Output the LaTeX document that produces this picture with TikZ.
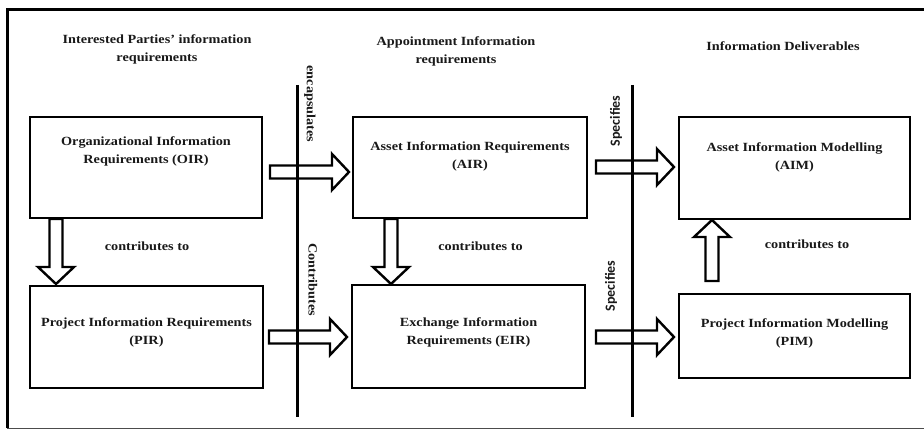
\documentclass[tikz,border=0pt]{standalone}
\usepackage{fontspec}
\setmainfont{Liberation Serif}[FakeStretch=1.14]
\newfontfamily\labsans{Carlito}
\usetikzlibrary{calc}
\begin{document}
\begin{tikzpicture}[x=1pt,y=-1pt,
  box/.style={draw=black, line width=2pt, rectangle, inner sep=0pt},
  txt/.style={font=\bfseries\fontsize{12.5}{18}\selectfont, align=center, inner sep=0pt, text=black!90},
  rlab/.style={font=\bfseries\fontsize{12.5}{15}\selectfont, inner sep=0pt, text=black!90},
  slab/.style={font=\labsans\bfseries\fontsize{14}{16}\selectfont, inner sep=0pt, text=black!90},
  sepline/.style={line width=3pt},
  barrow/.style={draw=black, line width=2.4pt, line join=miter, to path={
    let \p1=(\tikztostart), \p2=(\tikztotarget),
        \n1={veclen(\x2-\x1,\y2-\y1)}, \n2={(\x2-\x1)/\n1}, \n3={(\y2-\y1)/\n1} in
    ({\x1-6.5*\n3*1pt},{\y1+6.5*\n2*1pt})
    -- ({\x1+(\n1-17)*\n2*1pt-6.5*\n3*1pt},{\y1+(\n1-17)*\n3*1pt+6.5*\n2*1pt})
    -- ({\x1+(\n1-17)*\n2*1pt-18*\n3*1pt},{\y1+(\n1-17)*\n3*1pt+18*\n2*1pt})
    -- (\tikztotarget)
    -- ({\x1+(\n1-17)*\n2*1pt+18*\n3*1pt},{\y1+(\n1-17)*\n3*1pt-18*\n2*1pt})
    -- ({\x1+(\n1-17)*\n2*1pt+6.5*\n3*1pt},{\y1+(\n1-17)*\n3*1pt-6.5*\n2*1pt})
    -- ({\x1+6.5*\n3*1pt},{\y1-6.5*\n2*1pt})
    -- cycle}}
]
\useasboundingbox (0,0) rectangle (924,430);
% frame
\coordinate (ftl) at (7,10);
\coordinate (ftr) at (924,10);
\coordinate (fbl) at (7,428);
\coordinate (fbr) at (924,428);
\draw[line width=3pt] (ftr) -- (ftl) -- (fbl);
\draw[line width=1pt, black!70] (fbl) -- (fbr);

% column headings
\node[txt] (h1) at (157,49) {Interested Parties’ information\\requirements};
\node[txt] (h2) at (456,51) {Appointment Information\\requirements};
\node[txt] (h3) at (783,46) {Information Deliverables};

% boxes
\node[box, minimum width=232pt, minimum height=101pt] (oir) at (146,167.5) {};
\node[box, minimum width=234pt, minimum height=101pt] (air) at (470,167.5) {};
\node[box, minimum width=231pt, minimum height=102pt] (aim) at (794.5,168) {};
\node[box, minimum width=233pt, minimum height=102pt] (pir) at (146.5,337) {};
\node[box, minimum width=233pt, minimum height=103pt] (eir) at (468.5,336.5) {};
\node[box, minimum width=231pt, minimum height=84pt] (pim) at (794.5,336) {};

\node[txt] (oirt) at (146,151.5) {Organizational Information\\Requirements (OIR)};
\node[txt] (airt) at (470,156) {Asset Information Requirements\\(AIR)};
\node[txt] (aimt) at (794.5,157) {Asset Information Modelling\\(AIM)};
\node[txt] (pirt) at (146.5,332.5) {Project Information Requirements\\(PIR)};
\node[txt] (eirt) at (468.5,332.5) {Exchange Information\\Requirements (EIR)};
\node[txt] (pimt) at (794.5,333.5) {Project Information Modelling\\(PIM)};

% block arrows
\draw[barrow] ($(oir.east)+(7,4.5)$) to ($(air.west)+(-3,4.5)$);
\draw[barrow] ($(air.east)+(8,-0.5)$) to ($(aim.west)+(-4,-1)$);
\draw[barrow] ($(pir.east)+(5,0)$) to ($(eir.west)+(-4,0.5)$);
\draw[barrow] ($(eir.east)+(10,0.5)$) to ($(pim.west)+(-4,1)$);
\draw[barrow] ($(oir.south west)+(27,0)$) to ($(pir.north west)+(27,-1)$);
\draw[barrow] ($(air.south west)+(39,0)$) to ($(eir.north west)+(40,0)$);
\draw[barrow] ($(pim.north west)+(34,-12)$) to ($(aim.south west)+(34,0)$);

% separator lines
\coordinate (l1t) at (297,85);
\coordinate (l1b) at (297,417);
\coordinate (l2t) at (632,85);
\coordinate (l2b) at (632,417);
\draw[sepline] (l1t) -- (l1b);
\draw[sepline] (l2t) -- (l2b);

% labels
\node[txt] (c1) at (147,246) {contributes to};
\node[txt] (c2) at (480.5,246) {contributes to};
\node[txt] (c3) at (807,244) {contributes to};
\node[rlab, rotate=-90] (enc) at (310,104) {encapsulates};
\node[rlab, rotate=-90] (con) at (313,280) {Contributes};
\node[slab, rotate=90] (sp1) at (616,121) {Specifies};
\node[slab, rotate=90] (sp2) at (611,286) {Specifies};
\end{tikzpicture}
\end{document}
